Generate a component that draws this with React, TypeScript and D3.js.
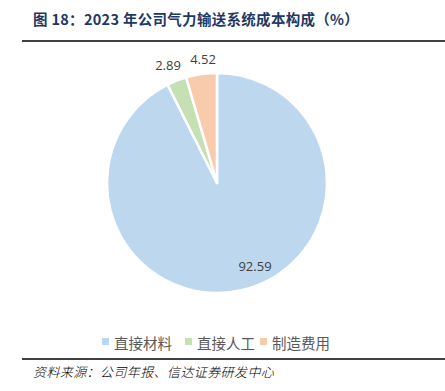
import React from "react";
import * as d3 from "d3";

const categories = ["直接材料", "直接人工", "制造费用"];
const values = [92.59, 2.89, 4.52];
const colors = ["#BDD7EE", "#C5E0B4", "#F8CBAD"];
const title = "图 18：2023 年公司气力输送系统成本构成（%）";
const source = "资料来源：公司年报、信达证券研发中心";

export default function App() {
  const W = 445, H = 391;
  const cx = 217, cy = 183, r = 110;
  const pie = d3.pie<number>().sort(null).value((d) => d)(values);
  const arc = d3.arc<d3.PieArcDatum<number>>().innerRadius(0).outerRadius(r);
  const labelPos = [
    [255, 266],
    [168, 65],
    [203, 59],
  ];
  const legendX = [105, 188, 263];
  const font = "'Noto Sans CJK SC', 'Noto Sans', sans-serif";
  return (
    <svg width={W} height={H} style={{ position: "absolute", left: 0, top: 0 }} fontFamily={font}>
      <rect width={W} height={H} fill="#fff" />
      <text x={33} y={25} fontSize={14.5} fontWeight="bold" fill="#1F3864" letterSpacing={0.3}>{title}</text>
      <line x1={22} x2={445} y1={41} y2={41} stroke="#000" strokeWidth={1.5} />
      <g transform={`translate(${cx},${cy})`}>
        {pie.map((p, i) => (
          <path key={i} d={arc(p) || ""} fill={colors[i]} stroke="#fff" strokeWidth={2.5} strokeLinejoin="round" />
        ))}
      </g>
      {values.map((v, i) => (
        <text key={i} x={labelPos[i][0]} y={labelPos[i][1]} textAnchor="middle" dominantBaseline="central" fontSize={13} fill="#404040" fontFamily="'Open Sans', 'Noto Sans', sans-serif">
          {v.toFixed(2)}
        </text>
      ))}
      {categories.map((c, i) => (
        <g key={c}>
          <rect x={legendX[i] - 3} y={338} width={7} height={7} fill={colors[i]} />
          <text x={legendX[i] + 9} y={342} dominantBaseline="central" fontSize={14.5} fill="#595959">{c}</text>
        </g>
      ))}
      <line x1={22} x2={445} y1={359} y2={359} stroke="#000" strokeWidth={1.5} />
      <text x={33} y={377} fontSize={13} fontStyle="italic" fontWeight={300} fill="#000" letterSpacing={0.4}>{source}</text>
    </svg>
  );
}
